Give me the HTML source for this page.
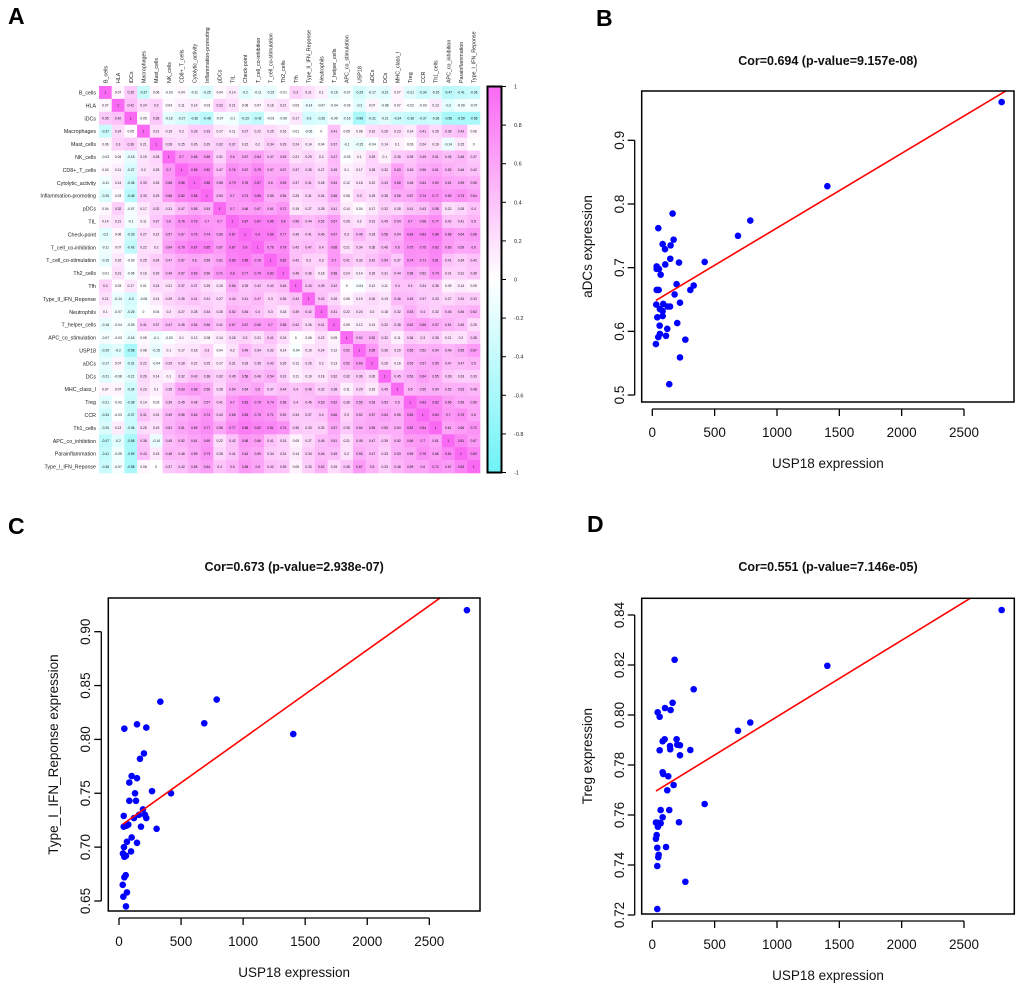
<!DOCTYPE html>
<html><head><meta charset="utf-8"><style>
html,body{margin:0;padding:0;background:#fff;}
svg{display:block;font-family:"Liberation Sans",Arial,sans-serif;}
</style></head><body>
<svg id="fig" width="1020" height="987" viewBox="0 0 1020 987" xmlns="http://www.w3.org/2000/svg">
<text x="8" y="24" font-size="23" font-weight="bold">A</text>
<text x="596" y="26" font-size="23" font-weight="bold">B</text>
<text x="8" y="534" font-size="23" font-weight="bold">C</text>
<text x="587" y="532" font-size="23" font-weight="bold">D</text>
<g id="heat"></g>
<g id="pb"></g>
<g id="pc"></g>
<g id="pd"></g>
</svg>
<script>
const NS="http://www.w3.org/2000/svg";
// ---------- heatmap data ----------
const heatLabels=["B_cells","HLA","iDCs","Macrophages","Mast_cells","NK_cells","CD8+_T_cells","Cytolytic_activity","Inflammation-promoting","pDCs","TIL","Check-point","T_cell_co-inhibition","T_cell_co-stimulation","Th2_cells","Tfh","Type_II_IFN_Reponse","Neutrophils","T_helper_cells","APC_co_stimulation","USP18","aDCs","DCs","MHC_class_I","Treg","CCR","Th1_cells","APC_co_inhibition","Parainflammation","Type_I_IFN_Reponse"];
const heatValues=[
[1,.07,.35,-.37,.06,-.03,.04,-.11,-.25,.04,.14,-.2,-.11,-.15,-.01,.3,.21,.1,-.16,-.07,-.29,-.17,-.21,.07,-.21,-.34,-.25,-.47,-.41,-.36],
[.07,1,.42,.24,.3,.04,.11,.14,.03,.32,.21,.06,.07,.16,.21,.03,-.14,-.07,-.04,-.03,-.2,.07,-.08,.07,-.02,-.03,.13,-.2,-.09,-.07],
[.35,.42,1,.05,.36,-.18,-.27,-.36,-.48,-.07,-.1,-.33,-.42,-.03,-.06,.17,-.3,-.26,-.09,-.16,-.58,-.31,-.21,-.34,-.38,-.37,-.36,-.58,-.59,-.58],
[-.37,.24,.05,1,.21,.19,.2,.33,.33,.17,.11,.27,.22,.25,.16,.01,-.06,0,.41,.05,.08,.22,.26,.23,.14,.41,.25,.38,.43,.06],
[.06,.3,.36,.21,1,.28,.25,.26,.29,.32,.37,.22,.2,.34,.29,.24,.14,.04,.37,-.1,-.15,-.04,.14,.1,.03,.24,.19,-.14,.15,0],
[-.03,.04,-.18,.19,.28,1,.7,.68,.68,.31,.6,.57,.64,.47,.49,.21,.29,.2,.47,-.03,.1,.29,.1,.35,.39,.49,.51,.45,.48,.37],
[.04,.11,-.27,.2,.25,.7,1,.86,.82,.47,.76,.67,.79,.57,.57,.37,.35,.27,.45,.1,.17,.28,.32,.63,.45,.56,.61,.52,.46,.42],
[-.11,.14,-.36,.33,.26,.68,.86,1,.88,.58,.79,.76,.87,.6,.69,.37,.41,.28,.54,.12,.18,.22,.43,.68,.48,.64,.69,.61,.59,.55],
[-.25,.03,-.48,.33,.29,.68,.82,.88,1,.53,.7,.74,.85,.55,.56,.25,.31,.34,.56,.08,.3,.25,.38,.56,.57,.74,.77,.69,.73,.64],
[.04,.32,-.07,.17,.32,.31,.47,.58,.53,1,.7,.66,.67,.61,.71,.19,.27,.28,.41,.14,.04,.17,.32,.28,.41,.43,.58,.22,.28,.4],
[.14,.21,-.1,.11,.37,.6,.76,.79,.7,.7,1,.87,.87,.85,.8,.56,.44,.52,.67,.26,.2,.31,.45,.54,.7,.68,.77,.42,.41,.5],
[-.2,.06,-.33,.27,.22,.57,.67,.76,.74,.66,.87,1,.9,.89,.77,.39,.41,.46,.67,.3,.49,.33,.58,.54,.83,.83,.88,.68,.64,.68],
[-.11,.07,-.42,.22,.2,.64,.79,.87,.85,.67,.87,.9,1,.76,.79,.42,.47,.4,.68,.21,.34,.35,.46,.6,.75,.75,.82,.66,.59,.6],
[-.15,.16,-.03,.25,.34,.47,.57,.6,.55,.61,.85,.89,.76,1,.82,.42,.3,.3,.7,.41,.32,.42,.54,.37,.74,.71,.81,.41,.34,.42],
[-.01,.21,-.06,.16,.29,.49,.57,.69,.56,.71,.8,.77,.79,.82,1,.46,.36,.18,.58,.24,.14,.26,.31,.44,.58,.52,.74,.31,.31,.39],
[.3,.03,.17,.01,.24,.21,.37,.37,.25,.19,.56,.39,.42,.42,.46,1,.43,.39,.42,0,-.04,.12,.11,.4,.4,.34,.36,.09,.14,.09],
[.21,-.14,-.3,-.06,.14,.29,.35,.41,.31,.27,.44,.41,.47,.3,.36,.43,1,.42,.26,.06,.19,.26,.19,.46,.45,.37,.33,.27,.34,.33],
[.1,-.07,-.26,0,.04,.2,.27,.28,.34,.28,.52,.46,.4,.3,.18,.39,.42,1,.41,.22,.24,.2,.18,.32,.53,.4,.32,.45,.46,.52],
[-.16,-.04,-.09,.41,.37,.47,.45,.54,.56,.41,.67,.67,.68,.7,.58,.42,.26,.41,1,.09,.12,.13,.32,.38,.62,.66,.57,.51,.45,.25],
[-.07,-.03,-.16,.05,-.1,-.03,.1,.12,.08,.14,.26,.3,.21,.41,.24,0,.06,.22,.09,1,.52,.52,.32,.11,.36,.3,.35,.21,.2,.38],
[-.29,-.2,-.58,.08,-.15,.1,.17,.18,.3,.04,.2,.49,.34,.32,.14,-.04,.19,.24,.12,.52,1,.69,.36,.29,.55,.52,.54,.49,.55,.67],
[-.17,.07,-.31,.22,-.04,.29,.28,.22,.25,.17,.31,.33,.35,.42,.26,.12,.26,.2,.13,.52,.69,1,.26,.16,.53,.57,.59,.47,.47,.5],
[-.21,-.08,-.21,.26,.14,.1,.32,.43,.38,.32,.45,.58,.46,.54,.31,.11,.19,.18,.32,.32,.36,.26,1,.45,.53,.64,.55,.39,.33,.33],
[.07,.07,-.34,.23,.1,.35,.63,.68,.56,.28,.54,.54,.6,.37,.44,.4,.46,.32,.38,.11,.29,.16,.45,1,.5,.55,.54,.52,.53,.48],
[-.21,-.02,-.38,.14,.03,.39,.45,.48,.57,.41,.7,.83,.75,.74,.58,.4,.45,.53,.62,.36,.55,.53,.53,.5,1,.83,.82,.66,.59,.59],
[-.34,-.03,-.37,.41,.24,.49,.56,.64,.74,.43,.68,.83,.75,.71,.52,.34,.37,.4,.66,.3,.52,.57,.64,.55,.83,1,.84,.7,.75,.6],
[-.25,.13,-.36,.25,.19,.51,.61,.69,.77,.58,.77,.88,.82,.81,.74,.36,.33,.32,.57,.35,.54,.59,.55,.54,.82,.84,1,.61,.66,.72],
[-.47,-.2,-.58,.38,-.14,.45,.52,.61,.69,.22,.42,.68,.66,.41,.31,.09,.27,.45,.51,.21,.49,.47,.39,.52,.66,.7,.61,1,.81,.67],
[-.41,-.09,-.59,.43,.15,.48,.46,.59,.73,.28,.41,.64,.59,.34,.31,.14,.34,.46,.45,.2,.55,.47,.33,.53,.59,.75,.66,.81,1,.83],
[-.36,-.07,-.58,.06,0,.37,.42,.55,.64,.4,.5,.68,.6,.42,.39,.09,.33,.52,.25,.38,.67,.5,.33,.48,.59,.6,.72,.67,.83,1]];
const colorbarTicks=[1,0.8,0.6,0.4,0.2,0,-0.2,-0.4,-0.6,-0.8,-1];

// ---------- scatter data ----------
const usp18B=[2802,1404,786,687,420,332,305,265,222,222,214,195,200,179,163,171,147,144,136,142,123,120,110,102,104,83,88,83,83,67,61,59,61,48,53,51,35,35,40,48,29,32,35];
const adcsB=[0.96,0.828,0.774,0.75,0.709,0.672,0.665,0.587,0.559,0.645,0.708,0.674,0.613,0.658,0.785,0.744,0.735,0.714,0.517,0.639,0.639,0.604,0.593,0.729,0.705,0.737,0.643,0.624,0.632,0.689,0.635,0.609,0.596,0.762,0.698,0.665,0.702,0.665,0.622,0.591,0.58,0.642,0.698];
const usp18C=[2803,1404,787,687,333,419,303,266,220,220,209,201,193,177,169,161,145,145,145,137,129,121,102,102,97,83,83,75,64,64,56,56,54,43,43,43,38,38,40,32,35,30,62];
const ifnC=[0.92,0.805,0.837,0.815,0.835,0.75,0.717,0.752,0.811,0.727,0.73,0.787,0.735,0.719,0.782,0.73,0.814,0.764,0.704,0.743,0.75,0.727,0.766,0.709,0.696,0.76,0.743,0.721,0.705,0.658,0.692,0.645,0.674,0.81,0.672,0.691,0.729,0.719,0.7,0.694,0.654,0.665,0.72];
const usp18D=[2802,1404,786,687,420,332,305,265,222,222,200,195,214,179,163,171,147,144,142,136,128,120,110,102,99,83,88,83,83,67,67,59,59,48,43,51,48,40,45,35,29,40,40,29];
const tregD=[0.842,0.8197,0.797,0.7937,0.7644,0.8103,0.786,0.7333,0.7839,0.7879,0.7881,0.7903,0.7571,0.8221,0.8049,0.772,0.802,0.7863,0.7876,0.762,0.7755,0.7699,0.7472,0.8028,0.7903,0.7895,0.7764,0.7771,0.7591,0.762,0.7567,0.7993,0.7859,0.7569,0.8011,0.7441,0.7431,0.7469,0.7553,0.752,0.7505,0.7396,0.7224,0.757];
const xTicks=[0,500,1000,1500,2000,2500];
const yTicksB=[0.5,0.6,0.7,0.8,0.9];
const yTicksC=[0.65,0.70,0.75,0.80,0.85,0.90];
const yTicksD=[0.72,0.74,0.76,0.78,0.80,0.82,0.84];

function mk(tag,attrs,parent,txt){const e=document.createElementNS(NS,tag);for(const k in attrs)e.setAttribute(k,attrs[k]);if(txt!==undefined)e.textContent=txt;parent.appendChild(e);return e;}

// ---------- heatmap ----------
(function(){
  const g=document.getElementById('heat');
  const x0=99,y0=86,cw=(480-99)/30,ch=(473-86)/30;
  function col(v){const a=Math.min(1,Math.abs(v));
    if(v>=0){return `rgb(${Math.round(255-5*a)},${Math.round(255-150*a)},${Math.round(255-12*a)})`;}
    return `rgb(${Math.round(255-145*a)},${Math.round(255-12*a)},${Math.round(255-8*a)})`;}
  heatValues.forEach((row,i)=>{row.forEach((v,j)=>{
    const r=mk('rect',{x:x0+j*cw,y:y0+i*ch,width:cw+0.3,height:ch+0.3,fill:col(v)},g);
    
    
    const t=mk('text',{x:x0+j*cw+cw/2,y:y0+i*ch+ch/2+1.2,'font-size':3.3,'text-anchor':'middle',fill:'#111'},g,v===1?'1':String(v).replace('0.','0.'));
    
    
  });});
  heatLabels.forEach((l,i)=>{
    const t=mk('text',{x:x0-3,y:y0+i*ch+ch/2+2,'font-size':5.3,'text-anchor':'end',fill:'#222'},g,l);
    
    
    const cx=x0+i*cw+cw/2+2;
    const c=mk('text',{x:cx,y:y0-3,'font-size':5.3,fill:'#222',transform:`rotate(-90 ${cx} ${y0-3})`},g,l);
    
    
  });
  // colorbar
  const defs=mk('defs',{},g);
  const lg=mk('linearGradient',{id:'cb',x1:0,y1:0,x2:0,y2:1},defs);
  mk('stop',{offset:'0',  'stop-color':col(1)},lg);
  mk('stop',{offset:'0.5','stop-color':'#fff'},lg);
  mk('stop',{offset:'1',  'stop-color':col(-1)},lg);
  const cb=mk('rect',{x:487.5,y:86.5,width:14,height:386,fill:'url(#cb)',stroke:'#000','stroke-width':2},g);
  
  
  colorbarTicks.forEach(v=>{
    const y=86.5+(1-v)/2*386;
    mk('line',{x1:502,x2:506,y1:y,y2:y,stroke:'#000','stroke-width':1},g);
    const t=mk('text',{x:514,y:y+2,'font-size':5.5,fill:'#222'},g,String(v));
    
    
  });
})();

// ---------- scatter ----------
function scatter(id,xs,ys,box,xdom,ydom,yTicks,yFmt,title,ylab,pos){
  const g=document.getElementById(id);
  const sx=v=>box.l+(v-xdom[0])/(xdom[1]-xdom[0])*(box.r-box.l);
  const sy=v=>box.b-(v-ydom[0])/(ydom[1]-ydom[0])*(box.b-box.t);
  const cid='clip'+id;
  const cp=mk('clipPath',{id:cid},mk('defs',{},g));
  mk('rect',{x:box.l,y:box.t,width:box.r-box.l,height:box.b-box.t},cp);
  // points
  xs.forEach((x,i)=>{const c=mk('circle',{cx:sx(x),cy:sy(ys[i]),r:3.3,fill:'#0000ff'},g);
    
    });
  // OLS fit
  const n=xs.length,mx=xs.reduce((a,b)=>a+b)/n,my=ys.reduce((a,b)=>a+b)/n;
  let sxy=0,sxx=0;xs.forEach((x,i)=>{sxy+=(x-mx)*(ys[i]-my);sxx+=(x-mx)*(x-mx);});
  const k=sxy/sxx,b0=my-k*mx;
  const xa=Math.min(...xs),xb=Math.max(...xs)*1.05;
  const ln=mk('line',{x1:sx(xa),y1:sy(b0+k*xa),x2:sx(xb),y2:sy(b0+k*xb),stroke:'#ff0000','stroke-width':1.6,'clip-path':`url(#${cid})`},g);
  
  
  const fr=mk('rect',{x:box.l,y:box.t,width:box.r-box.l,height:box.b-box.t,fill:'none',stroke:'#000','stroke-width':1.5},g);
  
  
  // x axis
  const ax=box.b+7;
  mk('line',{x1:sx(xTicks[0]),x2:sx(xTicks[xTicks.length-1]),y1:ax,y2:ax,stroke:'#000','stroke-width':1.3},g);
  xTicks.forEach(v=>{mk('line',{x1:sx(v),x2:sx(v),y1:ax,y2:ax+7,stroke:'#000','stroke-width':1.3},g);
    const t=mk('text',{x:sx(v),y:pos.xtl,'font-size':13.5,'text-anchor':'middle',fill:'#111'},g,String(v));
    
    });
  // y axis
  const ay=box.l-7;
  mk('line',{x1:ay,x2:ay,y1:sy(yTicks[0]),y2:sy(yTicks[yTicks.length-1]),stroke:'#000','stroke-width':1.3},g);
  yTicks.forEach(v=>{mk('line',{x1:ay-7,x2:ay,y1:sy(v),y2:sy(v),stroke:'#000','stroke-width':1.3},g);
    const t=mk('text',{x:pos.ytl,y:sy(v),'font-size':13.5,'text-anchor':'middle',fill:'#111',transform:`rotate(-90 ${pos.ytl} ${sy(v)})`},g,v.toFixed(yFmt));
    
    });
  const cx=(box.l+box.r)/2;
  const tt=mk('text',{x:cx,y:pos.title,'font-size':12.5,'font-weight':'bold','text-anchor':'middle',fill:'#111'},g,title);
  
  
  const xl=mk('text',{x:cx,y:pos.xl,'font-size':13.5,'text-anchor':'middle',fill:'#111'},g,'USP18 expression');
  
  
  const ym=(box.t+box.b)/2;
  const yl=mk('text',{x:pos.yl,y:ym,'font-size':13.5,'text-anchor':'middle',fill:'#111',transform:`rotate(-90 ${pos.yl} ${ym})`},g,ylab);
  
  
}
// B
scatter('pb',usp18B,adcsB,{l:641.7,r:1014,t:91,b:402},[0,2500*(964-652.3)/(964-652.3)].map((v,i)=>i?2500*(1014-652.3)/(964-652.3):-(652.3-641.7)/(964-652.3)*2500),
  [0.5+(402-409.3)/666.7,0.5+(409.3-91)/666.7],yTicksB,1,'Cor=0.694 (p-value=9.157e-08)','aDCs expression',{xtl:437,ytl:624,title:65,xl:468,yl:592});
// C
scatter('pc',usp18C,ifnC,{l:108.3,r:480,t:598,b:911},[-(119-108.3)/(429.3-119)*2500,(480-119)/(429.3-119)*2500],
  [0.65-(911-901)/53.87*0.05,0.90+(631.7-598)/53.87*0.05],yTicksC,2,'Cor=0.673 (p-value=2.938e-07)','Type_I_IFN_Reponse expression',{xtl:946,ytl:90,title:571,xl:977,yl:58});
// D
scatter('pd',usp18D,tregD,{l:641.7,r:1014.3,t:598.3,b:914},[-(652.3-641.7)/(964-652.3)*2500,(1014.3-652.3)/(964-652.3)*2500],
  [0.72-(914-915)/50*0.02,0.84+(615-598.3)/50*0.02],yTicksD,2,'Cor=0.551 (p-value=7.146e-05)','Treg expression',{xtl:949,ytl:624,title:571,xl:980,yl:592});
</script>
</body></html>
